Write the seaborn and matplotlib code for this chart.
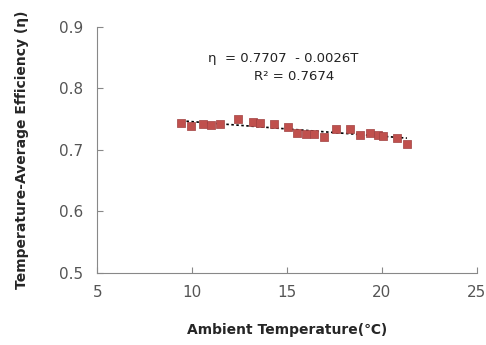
import matplotlib
matplotlib.use("Agg")
import matplotlib.pyplot as plt
import seaborn as sns
import pandas as pd

ambient_temp = [9.44, 9.96, 10.58, 11.0, 11.49, 12.40, 13.21, 13.56, 14.30, 15.05, 15.53,
                16.02, 16.44, 16.93, 17.59, 18.30, 18.86, 19.38, 19.77, 20.05, 20.82, 21.32]
efficiency = [0.744, 0.739, 0.742, 0.740, 0.742, 0.750, 0.745, 0.743, 0.742, 0.738, 0.728,
              0.726, 0.726, 0.721, 0.734, 0.734, 0.724, 0.727, 0.725, 0.723, 0.720, 0.709]
x_ticks = [5, 10, 15, 20, 25]
y_ticks = [0.5, 0.6, 0.7, 0.8, 0.9]

df = pd.DataFrame({"T": ambient_temp, "eff": efficiency})

sns.set_theme(style="ticks")
plt.rcParams['font.family'] = ['DejaVu Sans']

fig = plt.figure(figsize=(4.86, 3.45), dpi=100)
ax = fig.add_axes([0.2, 0.209, 0.781, 0.713])

sns.regplot(data=df, x="T", y="eff", scatter=False, ci=None, ax=ax,
            line_kws=dict(color="black", lw=1.2, ls=(0, (1.5, 1.5))))
sns.scatterplot(data=df, x="T", y="eff", marker="s", s=30, color="#c0504d",
                edgecolor="#a04040", linewidth=0.5, ax=ax, zorder=3)

ax.set_xlim(5, 25)
ax.set_ylim(0.5, 0.9)
ax.set_xticks(x_ticks)
ax.set_yticks(y_ticks)
ax.set_xticklabels([str(v) for v in x_ticks])
ax.set_yticklabels([f"{v:.1f}" for v in y_ticks])
ax.tick_params(direction="in", length=4, width=0.8, colors="#888888",
               labelcolor="#555555", labelsize=11)
ax.tick_params(axis="x", pad=9)
ax.tick_params(axis="y", pad=10)
for s in ["top", "right"]:
    ax.spines[s].set_visible(False)
for s in ["left", "bottom"]:
    ax.spines[s].set_color("#888888")
    ax.spines[s].set_linewidth(0.8)

ax.set_xlabel("Ambient Temperature(℃)", fontsize=10, fontweight="bold", labelpad=16)
ax.set_ylabel("Temperature-Average Efficiency (η)", fontsize=10, fontweight="bold", labelpad=22)

ax.text(0.49, 0.872, "η  = 0.7707  - 0.0026T", transform=ax.transAxes, ha="center",
        va="center", fontsize=9.5, color="#222222")
ax.text(0.52, 0.797, "R² = 0.7674", transform=ax.transAxes, ha="center",
        va="center", fontsize=9.5, color="#222222")

fig.savefig("out.png", dpi=100)
